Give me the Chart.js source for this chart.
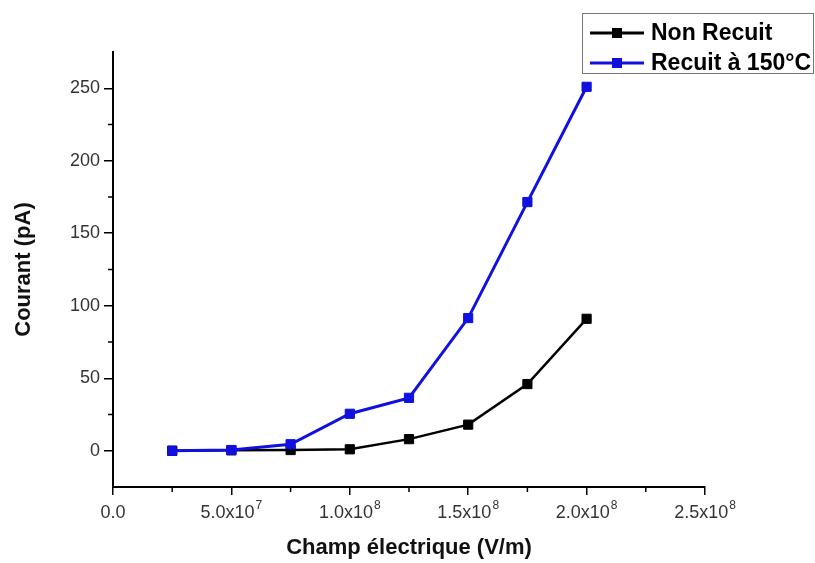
<!DOCTYPE html>
<html>
<head>
<meta charset="utf-8">
<script src="https://cdn.jsdelivr.net/npm/chart.js@4"></script>
<style>
    html, body { margin: 0; padding: 0; background: #ffffff; }
    #wrap { width: 815px; height: 563px; position: relative; }
</style>
</head>
<body>
<div id="wrap"><canvas id="courbe"></canvas></div>
<script>
// Daten
const champ = [2.5e7, 5e7, 7.5e7, 1e8, 1.25e8, 1.5e8, 1.75e8, 2e8];
const nonRecuit = [0, 0.3, 0.5, 1, 8, 18, 46, 91];
const recuit150 = [0, 0.5, 4.5, 25.5, 36.5, 91.5, 171.5, 251];

const yTicks = [0, 50, 100, 150, 200, 250];
const yMinor = [25, 75, 125, 175, 225];
const xTicks = [0, 5e7, 1e8, 1.5e8, 2e8, 2.5e8];
const xMinor = [2.5e7, 7.5e7, 1.25e8, 1.75e8, 2.25e8];
// Beschriftung der x-Achse: Mantisse und Exponent getrennt
const xMantisse = ['0.0', '5.0x10', '1.0x10', '1.5x10', '2.0x10', '2.5x10'];
const xExponent = ['', '7', '8', '8', '8', '8'];

const schrift = '"Liberation Sans", Arial, sans-serif';

function punkte(werte) {
    return champ.map(function (x, i) {
        return { x: x, y: werte[i] };
    });
}

// kleine Striche zwischen den Hauptstrichen
const minorTicks = {
    id: 'minorTicks',
    afterDraw: function (chart) {
        const ctx = chart.ctx;
        const xs = chart.scales.x;
        const ys = chart.scales.y;
        ctx.save();
        ctx.strokeStyle = '#000';
        ctx.lineWidth = 1.5;
        ctx.beginPath();
        yMinor.forEach(function (v) {
            const y = ys.getPixelForValue(v);
            ctx.moveTo(ys.right, y);
            ctx.lineTo(ys.right - 5, y);
        });
        xMinor.forEach(function (v) {
            const x = xs.getPixelForValue(v);
            ctx.moveTo(x, xs.top);
            ctx.lineTo(x, xs.top + 5);
        });
        ctx.stroke();
        ctx.restore();
    }
};

// x-Beschriftung mit hochgestelltem Exponenten
const xBeschriftung = {
    id: 'xBeschriftung',
    afterDraw: function (chart) {
        const ctx = chart.ctx;
        const xs = chart.scales.x;
        ctx.save();
        ctx.fillStyle = '#333';
        ctx.textBaseline = 'alphabetic';
        ctx.textAlign = 'left';
        xTicks.forEach(function (v, i) {
            const x = xs.getPixelForValue(v);
            ctx.font = '18px ' + schrift;
            const b1 = ctx.measureText(xMantisse[i]).width;
            ctx.font = '12px ' + schrift;
            const b2 = xExponent[i] ? ctx.measureText(xExponent[i]).width + 1 : 0;
            const start = x - (b1 + b2) / 2;
            const grund = xs.top + 31;
            ctx.font = '18px ' + schrift;
            ctx.fillText(xMantisse[i], start, grund);
            if (xExponent[i]) {
                ctx.font = '12px ' + schrift;
                ctx.fillText(xExponent[i], start + b1 + 1, grund - 9);
            }
        });
        ctx.restore();
    }
};

// Legende oben rechts
const legendeBox = {
    id: 'legendeBox',
    afterDraw: function (chart) {
        const ctx = chart.ctx;
        const reihen = [chart.data.datasets[1], chart.data.datasets[0]];
        ctx.save();
        ctx.strokeStyle = '#777';
        ctx.lineWidth = 1;
        ctx.strokeRect(582.5, 13.5, 231, 60);
        reihen.forEach(function (ds, i) {
            const y = 33 + i * 30;
            ctx.strokeStyle = ds.borderColor;
            ctx.lineWidth = 3;
            ctx.beginPath();
            ctx.moveTo(590, y);
            ctx.lineTo(644, y);
            ctx.stroke();
            ctx.fillStyle = ds.pointBackgroundColor;
            ctx.fillRect(612, y - 5, 10, 10);
            ctx.fillStyle = '#000';
            ctx.font = 'bold 23px ' + schrift;
            ctx.textBaseline = 'middle';
            ctx.textAlign = 'left';
            ctx.fillText(ds.label, 651, y + 1);
        });
        ctx.restore();
    }
};

new Chart(document.querySelector('#courbe'), {
    type: 'line',
    data: {
        datasets: [
            {
                label: 'Recuit à 150°C',
                data: punkte(recuit150),
                borderColor: '#1010e0',
                backgroundColor: '#1010e0',
                pointBackgroundColor: '#1010e0',
                pointBorderColor: '#1010e0',
                borderWidth: 3,
                pointStyle: 'rect',
                pointRadius: 6.5,
                pointBorderWidth: 1,
                tension: 0,
                order: 0
            },
            {
                label: 'Non Recuit',
                data: punkte(nonRecuit),
                borderColor: '#000000',
                backgroundColor: '#000000',
                pointBackgroundColor: '#000000',
                pointBorderColor: '#000000',
                borderWidth: 2.5,
                pointStyle: 'rect',
                pointRadius: 6.5,
                pointBorderWidth: 1,
                tension: 0,
                order: 1
            }
        ]
    },
    options: {
        responsive: true,
        maintainAspectRatio: false,
        animation: false,
        layout: { padding: { top: 52, right: 110, left: 0, bottom: 0 } },
        scales: {
            x: {
                type: 'linear',
                min: 0,
                max: 2.5e8,
                afterFit: function (scale) { scale.height = 76; },
                afterBuildTicks: function (scale) {
                    scale.ticks = xTicks.map(function (v) { return { value: v }; });
                },
                ticks: { display: false },
                grid: { drawOnChartArea: false, drawTicks: true, tickLength: 8, color: '#000', lineWidth: 1.5 },
                border: { display: true, color: '#000', width: 2 },
                title: {
                    display: true,
                    text: 'Champ électrique (V/m)',
                    color: '#111',
                    font: { family: schrift, size: 22, weight: 'bold' },
                    padding: { top: 0, bottom: 2 }
                }
            },
            y: {
                min: -25,
                max: 275,
                afterFit: function (scale) { scale.width = 113; },
                afterBuildTicks: function (scale) {
                    scale.ticks = yTicks.map(function (v) { return { value: v }; });
                },
                ticks: {
                    color: '#333',
                    font: { family: schrift, size: 18 },
                    padding: 4
                },
                grid: { drawOnChartArea: false, drawTicks: true, tickLength: 9, color: '#000', lineWidth: 1.5 },
                border: { display: true, color: '#000', width: 2 },
                title: {
                    display: true,
                    text: 'Courant (pA)',
                    color: '#111',
                    font: { family: schrift, size: 22, weight: 'bold' },
                    padding: { top: 11, bottom: 0 }
                }
            }
        },
        plugins: {
            legend: { display: false },
            tooltip: { enabled: false }
        }
    },
    plugins: [minorTicks, xBeschriftung, legendeBox]
});
</script>
</body>
</html>
